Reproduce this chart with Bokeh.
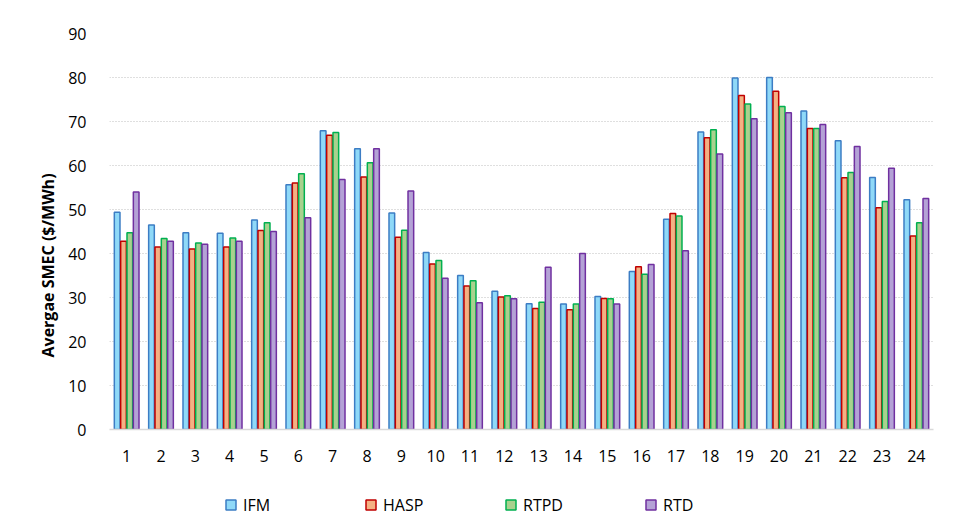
import numpy as np
from bokeh.embed import file_html
from bokeh.layouts import column
from bokeh.models import ColumnDataSource, FixedTicker, Legend, LegendItem, Title
from bokeh.plotting import figure
from bokeh.resources import INLINE

hours = list(range(1, 25))
ifm = [49.4, 46.5, 44.7, 44.6, 47.6, 55.6, 67.9, 63.8, 49.2, 40.2, 35.0, 31.4,
       28.6, 28.5, 30.2, 35.9, 47.8, 67.6, 79.9, 80.0, 72.4, 65.6, 57.3, 52.2]
hasp = [42.8, 41.5, 41.0, 41.5, 45.2, 56.0, 66.9, 57.4, 43.7, 37.6, 32.6, 30.1,
        27.5, 27.2, 29.8, 37.0, 49.1, 66.3, 75.9, 76.9, 68.4, 57.2, 50.4, 44.0]
rtpd = [44.7, 43.4, 42.4, 43.5, 47.0, 58.1, 67.5, 60.6, 45.3, 38.4, 33.8, 30.4,
        28.9, 28.5, 29.7, 35.3, 48.5, 68.1, 74.0, 73.4, 68.4, 58.4, 51.8, 47.0]
rtd = [54.0, 42.8, 42.1, 42.8, 45.0, 48.1, 56.8, 63.8, 54.2, 34.4, 28.8, 29.7,
       36.9, 40.0, 28.5, 37.5, 40.6, 62.6, 70.6, 72.0, 69.3, 64.3, 59.4, 52.5]

series = ["IFM", "HASP", "RTPD", "RTD"]
fills = ["#8fd9f8", "#f4b183", "#a9d18e", "#b4a2d6"]
lines = ["#3c7dc4", "#c00000", "#00b050", "#7030a0"]
offsets = [-0.277, -0.092, 0.092, 0.277]

FONT = "Open Sans"

p = figure(frame_width=824, frame_height=396, x_range=(0.5, 24.5), y_range=(0, 90),
           output_backend="svg", toolbar_location=None,
           min_border_left=109, min_border_right=17, min_border_top=33, min_border_bottom=45)
p.outline_line_color = None
p.background_fill_color = "white"

for name, vals, fc, lc, off in zip(series, [ifm, hasp, rtpd, rtd], fills, lines, offsets):
    src = ColumnDataSource(dict(x=np.array(hours) + off, top=vals))
    p.vbar(x="x", top="top", width=0.165, source=src, fill_color=fc,
           line_color=lc, line_width=1.5)

p.xgrid.grid_line_color = None
p.ygrid.grid_line_color = "#bfbfbf"
p.ygrid.grid_line_dash = "1 2"
p.ygrid.grid_line_width = 1

p.xaxis.ticker = FixedTicker(ticks=hours)
p.yaxis.ticker = FixedTicker(ticks=list(range(0, 91, 10)))
for ax in (p.xaxis, p.yaxis):
    ax.major_tick_line_color = None
    ax.minor_tick_line_color = None
    ax.major_label_text_font = FONT
    ax.major_label_text_font_size = "16px"
    ax.major_label_text_color = "#000000"
p.yaxis.axis_line_color = None
p.xaxis.axis_line_color = "#d9d9d9"
p.xaxis.axis_line_width = 1.5
p.yaxis.major_label_standoff = 17
p.xaxis.major_label_standoff = 14

ylab = Title(text="Avergae SMEC ($/MWh)", align="left", offset=72, standoff=14,
             text_font=FONT, text_font_size="16px", text_font_style="bold",
             text_color="#000000")
p.add_layout(ylab, "left")

# legend strip underneath the chart (swatches only, kept outside the visible range)
leg = figure(frame_width=950, frame_height=44, x_range=(0, 1), y_range=(0, 1),
             output_backend="svg", toolbar_location=None, min_border=0,
             x_axis_type=None, y_axis_type=None)
leg.outline_line_color = None
leg.xgrid.visible = False
leg.ygrid.visible = False
items = []
for name, fc, lc in zip(series, fills, lines):
    r = leg.scatter(x=[5], y=[5], marker="square", size=10, fill_color=fc,
                    line_color=lc, line_width=1.5)
    items.append(LegendItem(label=name, renderers=[r]))

legend = Legend(items=items, orientation="horizontal", location=(218, 1),
                glyph_width=25, glyph_height=25, label_standoff=0, label_width=97,
                label_height=20, spacing=18, padding=0, margin=0, border_line_color=None,
                background_fill_alpha=0, label_text_font=FONT,
                label_text_font_size="16px", label_text_color="#000000")
leg.add_layout(legend, "center")

layout = column(p, leg, spacing=0)
open("out.html", "w").write(file_html(layout, INLINE))
